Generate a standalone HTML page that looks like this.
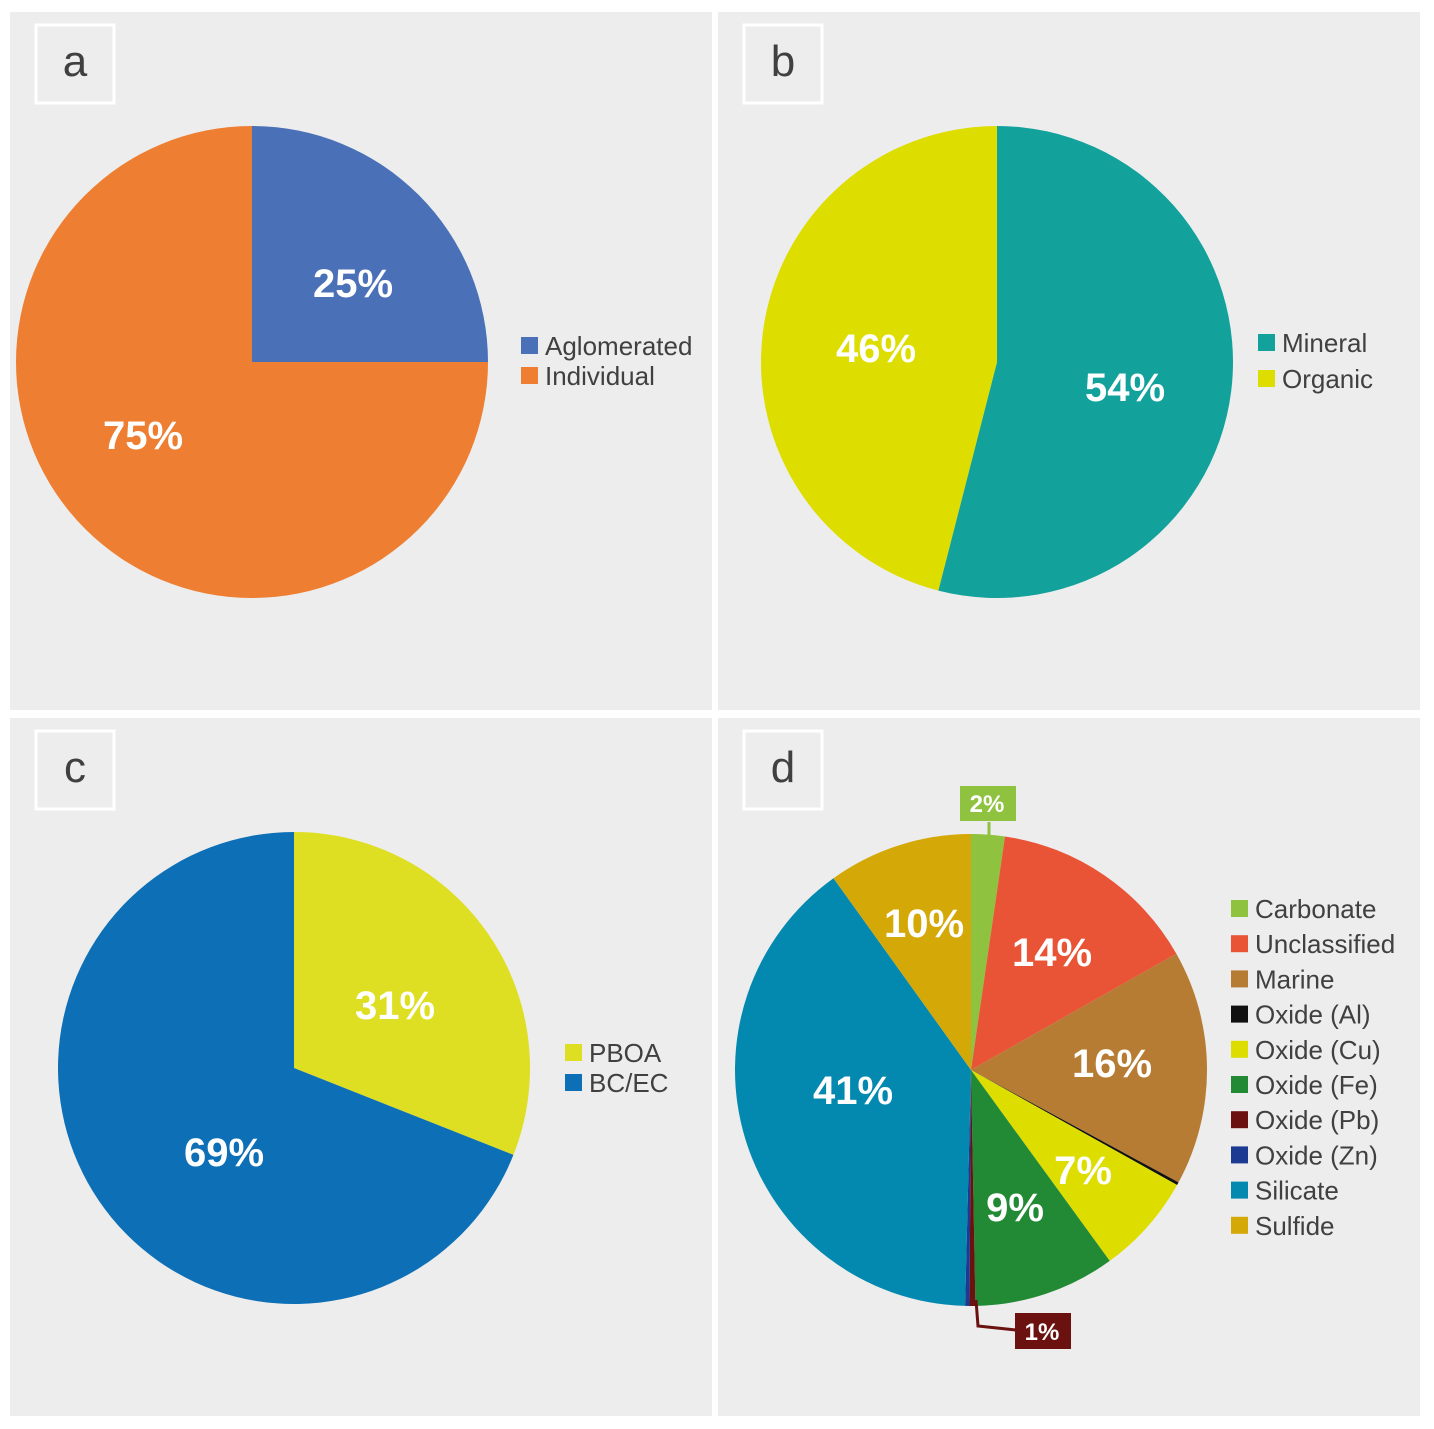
<!DOCTYPE html>
<html><head><meta charset="utf-8">
<style>
body{margin:0;background:#fff;width:1434px;height:1429px;overflow:hidden;font-family:"Liberation Sans",sans-serif}
svg{display:block}
</style></head>
<body>
<svg id="chart" width="1434" height="1429" xmlns="http://www.w3.org/2000/svg">
<rect x="0" y="0" width="1434" height="1429" fill="#fff"/>
</svg>
<script>
// Panel a
const catsA = ["Aglomerated","Individual"];
const valsA = [25,75];
const labelsA = ["25%","75%"];
// Panel b
const catsB = ["Mineral","Organic"];
const valsB = [54,46];
const labelsB = ["54%","46%"];
// Panel c
const catsC = ["PBOA","BC/EC"];
const valsC = [31,69];
const labelsC = ["31%","69%"];
// Panel d
const catsD = ["Carbonate","Unclassified","Marine","Oxide (Al)","Oxide (Cu)","Oxide (Fe)","Oxide (Pb)","Oxide (Zn)","Silicate","Sulfide"];
const valsD = [2.3,14.5,16.1,0.2,6.9,9.7,0.4,0.3,39.7,9.9];
const labelsD = ["2%","14%","16%","","7%","9%","1%","","41%","10%"];

const NS="http://www.w3.org/2000/svg";
const svg=document.getElementById('chart');
function mk(tag,attrs,parent){const e=document.createElementNS(NS,tag);for(const k in attrs)e.setAttribute(k,attrs[k]);(parent||svg).appendChild(e);return e;}

const panels=[
 {id:'a',x:10,y:12,cx:252,cy:362,r:236,cats:catsA,vals:valsA,labels:labelsA,colors:["#4a70b8","#ee7f32"],
  lx:521,ly:346,step:30,lblPos:[[353,283],[143,435]]},
 {id:'b',x:718,y:12,cx:997,cy:362,r:236,cats:catsB,vals:valsB,labels:labelsB,colors:["#13a19b","#dddd00"],
  lx:1258,ly:343,step:36,lblPos:[[1125,387],[876,348]]},
 {id:'c',x:10,y:718,cx:294,cy:1068,r:236,cats:catsC,vals:valsC,labels:labelsC,colors:["#dede22","#0d6fb5"],
  lx:565,ly:1053,step:30,lblPos:[[395,1005],[224,1152]]},
 {id:'d',x:718,y:718,cx:971,cy:1070,r:236,cats:catsD,vals:valsD,labels:labelsD,
  colors:["#8fc33f","#e95436","#b67c33","#111111","#dddd00","#228a35","#6b1210","#1d3a93","#0389b0","#d4a806"],
  lx:1231,ly:909,step:35.2,lblPos:[[987,803],[1052,952],[1112,1063],null,[1083,1170],[1015,1207],[1042,1331],null,[853,1090],[924,923]]}
];

panels.forEach(p=>{
  const g=mk('g',{});
  
  
  const bg=mk('rect',{x:p.x,y:p.y,width:702,height:698,fill:'#ededed'},g);
  
  
  const lb=mk('rect',{x:p.x+26,y:p.y+13,width:78,height:78,fill:'none',stroke:'#fff','stroke-width':3},g);
  
  
  const lt=mk('text',{x:p.x+65,y:p.y+64,'text-anchor':'middle','font-size':44,fill:'#404040'},g);
  lt.textContent=p.id;
  
  
  const total=p.vals.reduce((a,b)=>a+b,0);
  let acc=0;
  p.vals.forEach((v,i)=>{
    const a0=acc/total*2*Math.PI; acc+=v; const a1=acc/total*2*Math.PI;
    const x0=p.cx+p.r*Math.sin(a0), y0=p.cy-p.r*Math.cos(a0);
    const x1=p.cx+p.r*Math.sin(a1), y1=p.cy-p.r*Math.cos(a1);
    const large=(a1-a0)>Math.PI?1:0;
    const s=mk('path',{d:`M${p.cx},${p.cy}L${x0},${y0}A${p.r},${p.r} 0 ${large} 1 ${x1},${y1}Z`,fill:p.colors[i]},g);
    
    
  });
  // callouts for panel d
  if(p.id==='d'){
    const c1=mk('path',{d:'M989,822 L989,838',stroke:'#8fc33f','stroke-width':3,fill:'none'},g);
    
    
    const b1=mk('rect',{x:960,y:786,width:56,height:35,fill:'#8fc33f'},g);
    
    
    const c2=mk('path',{d:'M976,1300 L978,1326 L1016,1330',stroke:'#6b1210','stroke-width':3,fill:'none'},g);
    
    
    const b2=mk('rect',{x:1015,y:1313,width:56,height:36,fill:'#6b1210'},g);
    
    
  }
  p.labels.forEach((l,i)=>{
    if(!l||!p.lblPos[i])return;
    const small=(p.id==='d'&&(i===0||i===6));
    const t=mk('text',{x:p.lblPos[i][0],y:p.lblPos[i][1]+(small?9:14),'text-anchor':'middle','font-size':small?24:40,'font-weight':'bold',fill:'#fff'},g);
    t.textContent=l;
    
    
  });
  p.cats.forEach((c,i)=>{
    const y=p.ly+i*p.step;
    const sq=mk('rect',{x:p.lx,y:y-9,width:17,height:17,fill:p.colors[i]},g);
    
    
    const t=mk('text',{x:p.lx+24,y:y+9,'font-size':26,fill:'#404040'},g);
    t.textContent=c;
    
    
  });
});
</script>
</body></html>
